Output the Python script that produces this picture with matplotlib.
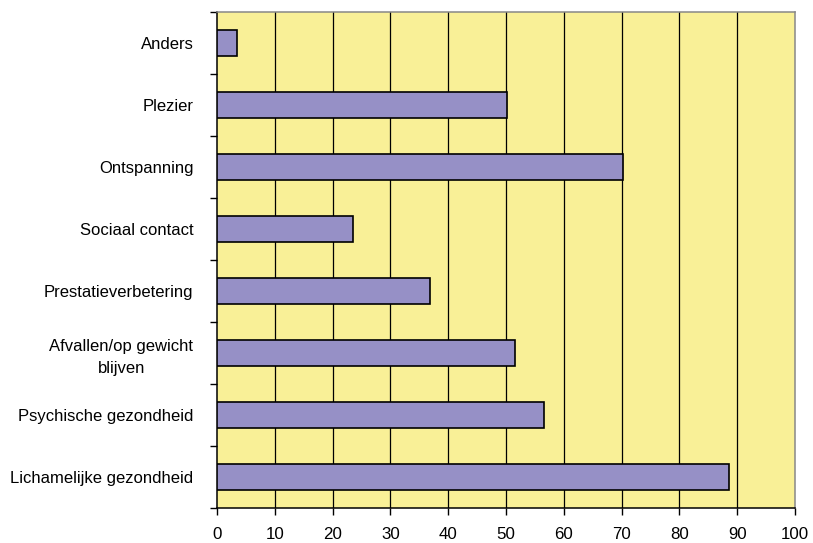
import matplotlib
matplotlib.use("Agg")
import matplotlib.pyplot as plt
import numpy as np

categories = ["Anders", "Plezier", "Ontspanning", "Sociaal contact",
              "Prestatieverbetering", "Afvallen/op gewicht\nblijven",
              "Psychische gezondheid", "Lichamelijke gezondheid"]
values = [3.4, 50.2, 70.2, 23.5, 36.8, 51.6, 56.5, 88.6]
xticks = [0, 10, 20, 30, 40, 50, 60, 70, 80, 90, 100]

plt.rcParams['font.family'] = ['Liberation Sans', 'DejaVu Sans']

fig = plt.figure(figsize=(8.13, 5.43), dpi=100)
ax = fig.add_axes([217/813, 1-508/543, (795-217)/813, (508-12)/543])
ax.set_facecolor('#F9F097')

y = np.arange(len(categories))
ax.barh(y, values, height=0.41, color='#9690C6', edgecolor='black',
        linewidth=1.2, zorder=3)

ax.set_xlim(0, 100)
ax.set_ylim(len(categories) - 0.5, -0.5)
ax.set_xticks(xticks)
ax.set_xticklabels([str(t) for t in xticks], fontsize=12.2)
for t in xticks[1:-1]:
    ax.axvline(t, color='black', lw=0.9, zorder=1)

ax.set_yticks(y)
ax.set_yticklabels(categories, fontsize=12, ha='right', multialignment='center',
                   linespacing=1.5)
ax.tick_params(axis='y', which='major', length=0, pad=17)
ax.set_yticks(np.arange(-0.5, len(categories) + 0.5, 1), minor=True)
ax.tick_params(axis='y', which='minor', length=5, width=1, color='black', direction='out')
ax.tick_params(axis='x', length=5, width=1, direction='out', pad=8.5)

ax.spines['left'].set_color('black')
ax.spines['bottom'].set_color('black')
ax.spines['top'].set_color('#888888')
ax.spines['right'].set_color('#888888')
for s in ax.spines.values():
    s.set_linewidth(1.1)

fig.savefig('out.png', dpi=100)
